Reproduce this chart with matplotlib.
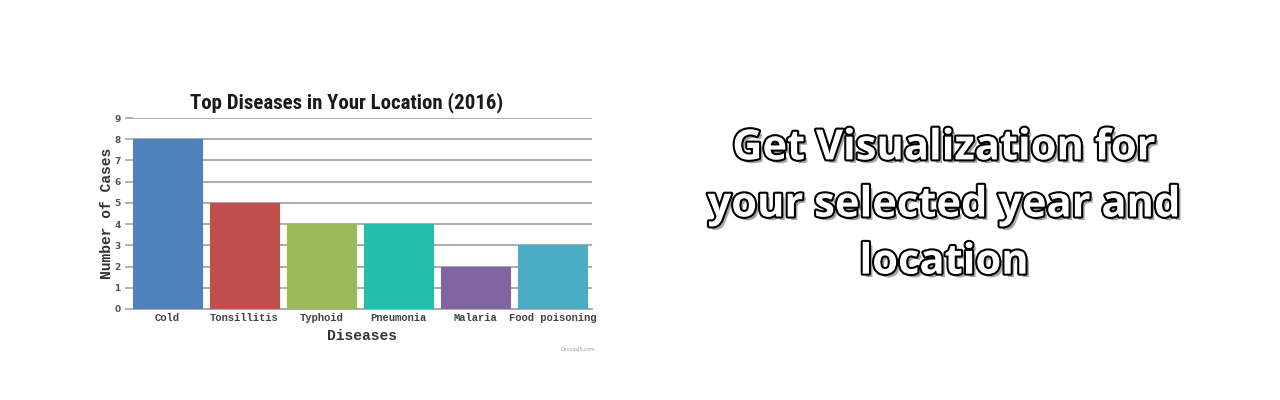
import matplotlib
matplotlib.use("Agg")
import matplotlib.pyplot as plt
import matplotlib.patheffects as pe
from matplotlib import font_manager

categories = ["Cold", "Tonsillitis", "Typhoid", "Pneumonia", "Malaria", "Food poisoning"]
cases = [8, 5, 4, 4, 2, 3]
colors = ["#4F81BC", "#C0504E", "#9BBB58", "#23BFAA", "#8064A1", "#4AACC5"]
y_ticks = list(range(0, 10))
title = "Top Diseases in Your Location (2016)"
side_text = "Get Visualization for\nyour selected year and\nlocation"

available = {f.name for f in font_manager.fontManager.ttflist}
def pick(names, default="DejaVu Sans"):
    for n in names:
        if n in available:
            return n
    return default

mono = pick(["Liberation Mono", "DejaVu Sans Mono"])
narrow = pick(["Liberation Sans Narrow", "Roboto Condensed", "Roboto", "DejaVu Sans"])
bold_sans = pick(["Open Sans", "Noto Sans", "DejaVu Sans"])

fig = plt.figure(figsize=(12.8, 4.0), dpi=100)
fig.patch.set_facecolor("white")
ax = fig.add_axes([133/1280, 91/400, 459/1280, 191/400])

x = list(range(len(categories)))
ax.bar(x, cases, width=0.896, color=colors, edgecolor=colors, linewidth=0.8, zorder=3)
ax.set_xlim(-0.448, 5.513)
ax.set_ylim(0, 9)
ax.set_yticks(y_ticks)
ax.yaxis.grid(True, color="#A6A6A6", linewidth=1.3, zorder=0)
ax.set_axisbelow(True)
for s in ["top", "right", "left"]:
    ax.spines[s].set_visible(False)
ax.spines["bottom"].set_color("#A6A6A6")
ax.spines["bottom"].set_linewidth(1.3)
ax.tick_params(axis="y", length=6, width=1.2, color="#A6A6A6", pad=3,
               labelsize=6.5, labelcolor="#555555")
for lab in ax.get_yticklabels():
    lab.set_fontweight("bold")
ax.tick_params(axis="x", length=0, pad=3)
ax.set_xticks(x)
ax.set_xticklabels(categories, fontfamily=mono, fontweight="bold", fontsize=7.6, color="#444444")
ax.set_xlabel("Diseases", fontfamily=mono, fontweight="bold", fontsize=10.5, color="#333333", labelpad=4)
ax.set_ylabel("Number of Cases", fontfamily=mono, fontweight="bold", fontsize=10.5, color="#333333", labelpad=0)

fig.text(347/1280, 1 - 103/400, title, ha="center", va="center", fontsize=15,
         fontweight="black", fontfamily=narrow, fontstretch="condensed", color="#1a1a1a")
fig.text(578/1280, 1 - 349/400, "CanvasJS.com", ha="center", va="center", fontsize=3.5, color="#999999")

fig.text(944/1280, 1 - 206/400, side_text, ha="center", va="center", fontsize=30,
         fontweight="bold", fontfamily=bold_sans, color="white", linespacing=1.52,
         path_effects=[pe.SimplePatchShadow(offset=(2.5, -2.5), alpha=0.35, shadow_rgbFace="black"),
                       pe.Stroke(linewidth=3, foreground="black"), pe.Normal()])

fig.savefig("out.png", dpi=100, facecolor="white")
